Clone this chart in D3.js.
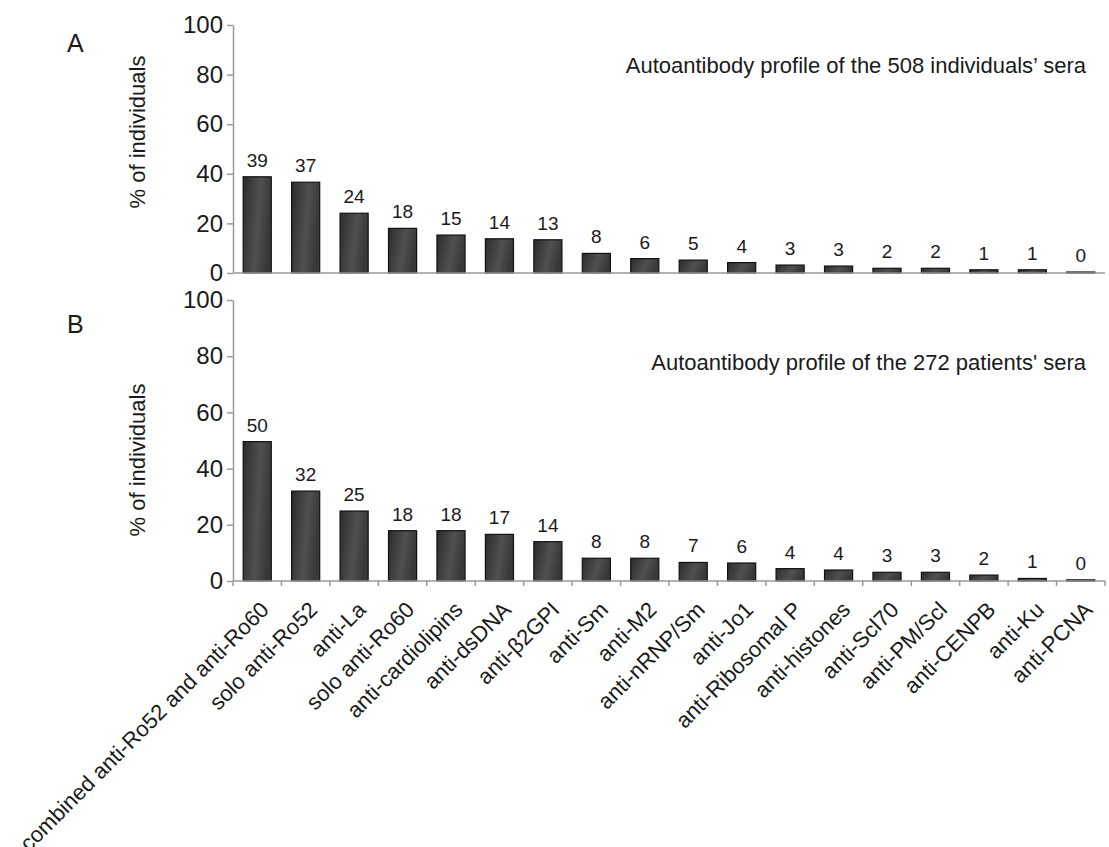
<!DOCTYPE html>
<html>
<head>
<meta charset="utf-8">
<script src="https://cdn.jsdelivr.net/npm/d3@7"></script>
<style>
  body { margin: 0; background: #fff; }
  text { font-family: 'Liberation Sans', Arial, sans-serif; fill: #1a1a1a; }
</style>
</head>
<body>
<svg width="1109" height="847"></svg>
<script>
const categories = [
  'combined anti-Ro52 and anti-Ro60', 'solo anti-Ro52', 'anti-La', 'solo anti-Ro60',
  'anti-cardiolipins', 'anti-dsDNA', 'anti-β2GPI', 'anti-Sm', 'anti-M2', 'anti-nRNP/Sm',
  'anti-Jo1', 'anti-Ribosomal P', 'anti-histones', 'anti-Scl70', 'anti-PM/Scl',
  'anti-CENPB', 'anti-Ku', 'anti-PCNA'
];

// % of individuals, panel A (508 individuals) and panel B (272 patients)
const valuesA = [38.8, 36.6, 24.1, 18.0, 15.3, 13.8, 13.4, 7.9, 5.8, 5.2, 4.2, 3.2, 2.8, 1.9, 1.9, 1.3, 1.3, 0.4];
const valuesB = [49.6, 32.0, 24.9, 17.9, 17.9, 16.6, 14.0, 8.1, 8.1, 6.6, 6.4, 4.4, 3.9, 3.1, 3.1, 2.1, 0.9, 0.4];

const yTicks = [0, 20, 40, 60, 80, 100];

const titleA = 'Autoantibody profile of the 508 individuals\u2019 sera';
const titleB = 'Autoantibody profile of the 272 patients\' sera';

const svg = d3.select('svg');

const defs = svg.append('defs');
const grad = defs.append('linearGradient')
    .attr('id', 'barFill')
    .attr('x1', 0).attr('y1', 0)
    .attr('x2', 1).attr('y2', 0.25);
grad.append('stop').attr('offset', '0%').attr('stop-color', '#2c2c2c');
grad.append('stop').attr('offset', '60%').attr('stop-color', '#505050');
grad.append('stop').attr('offset', '100%').attr('stop-color', '#383838');

const x = d3.scaleBand()
    .domain(categories)
    .range([233, 1105])
    .paddingInner(0.42)
    .paddingOuter(0.21);

function drawPanel(p) {
  const y = d3.scaleLinear().domain([0, 100]).range([p.bottom, p.top]);
  const g = svg.append('g');

  // y axis
  const yAxis = g.append('g')
      .attr('transform', `translate(${ x.range()[0] }, 0)`)
      .call(d3.axisLeft(y).tickValues(yTicks).tickSize(6).tickSizeOuter(0).tickPadding(4));
  yAxis.select('.domain').attr('stroke', '#999').attr('stroke-width', 1.5);
  yAxis.selectAll('.tick line').attr('stroke', '#999').attr('stroke-width', 1.5);
  yAxis.selectAll('.tick text')
      .attr('font-size', 24)
      .attr('font-family', "'Liberation Sans', Arial, sans-serif")
      .attr('fill', '#1a1a1a');

  // bars
  g.selectAll('rect.bar')
    .data(p.values)
    .join('rect')
      .attr('class', 'bar')
      .attr('x', (d, i) => x(categories[i]))
      .attr('width', x.bandwidth())
      .attr('y', d => y(d))
      .attr('height', d => y(0) - y(d))
      .attr('fill', 'url(#barFill)')
      .attr('stroke', '#111')
      .attr('stroke-width', 1.2);

  // value labels
  g.selectAll('text.val')
    .data(p.values)
    .join('text')
      .attr('class', 'val')
      .attr('x', (d, i) => x(categories[i]) + x.bandwidth() / 2)
      .attr('y', d => y(d) - 10)
      .attr('text-anchor', 'middle')
      .attr('font-size', 19)
      .text(d => d3.format('.0f')(d));

  // x axis line
  g.append('line')
      .attr('x1', x.range()[0])
      .attr('x2', x.range()[1])
      .attr('y1', y(0))
      .attr('y2', y(0))
      .attr('stroke', '#999')
      .attr('stroke-width', 1.5);

  if (p.showLabels) {
    g.selectAll('line.xtick')
      .data(d3.range(categories.length + 1))
      .join('line')
        .attr('class', 'xtick')
        .attr('x1', i => x.range()[0] + i * x.step())
        .attr('x2', i => x.range()[0] + i * x.step())
        .attr('y1', y(0))
        .attr('y2', y(0) + 5)
        .attr('stroke', '#999')
        .attr('stroke-width', 1.5);

    g.selectAll('text.cat')
      .data(categories)
      .join('text')
        .attr('class', 'cat')
        .attr('transform', d => `translate(${ x(d) + x.bandwidth() / 2 + 2 }, ${ y(0) + 19 }) rotate(-45)`)
        .attr('text-anchor', 'end')
        .attr('dy', '0.71em')
        .attr('font-size', 22)
        .text(d => d);
  }

  // y label
  g.append('text')
      .attr('transform', `translate(145, ${ p.labelY }) rotate(-90)`)
      .attr('text-anchor', 'middle')
      .attr('font-size', 22)
      .text('% of individuals');

  // panel letter
  g.append('text')
      .attr('x', 67)
      .attr('y', p.letterY)
      .attr('font-size', 25)
      .text(p.letter);

  // title
  g.append('text')
      .attr('x', 1086)
      .attr('y', p.titleY)
      .attr('text-anchor', 'end')
      .attr('font-size', 22)
      .text(p.title);
}

drawPanel({ values: valuesA, top: 25, bottom: 273, letter: 'A', letterY: 52, labelY: 132, titleY: 73, title: titleA, showLabels: false });
drawPanel({ values: valuesB, top: 300, bottom: 581, letter: 'B', letterY: 333, labelY: 460, titleY: 370, title: titleB, showLabels: true });
</script>
</body>
</html>
